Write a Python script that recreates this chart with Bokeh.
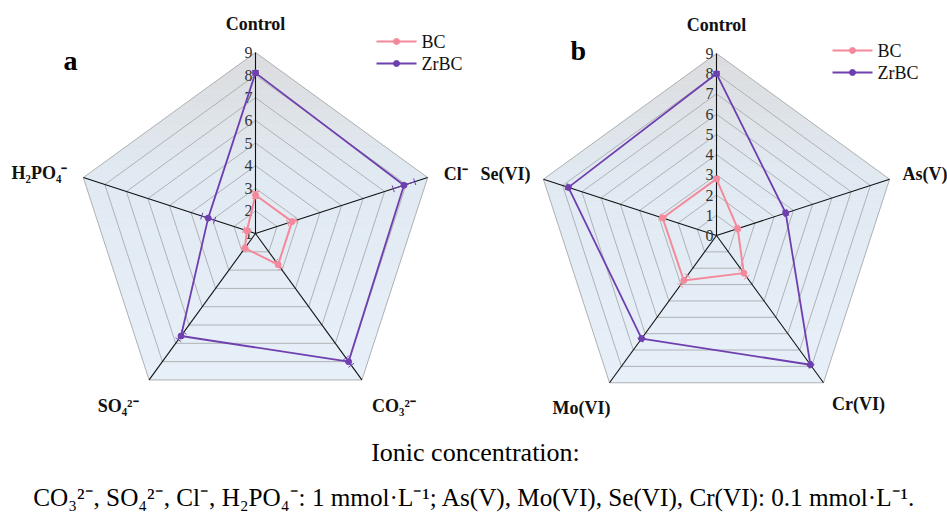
import math
from bokeh.plotting import figure
from bokeh.models import Range1d
from bokeh.embed import file_html
from bokeh.resources import INLINE
from bokeh.core.properties import value

# ---------------- data ----------------
cats_a = ["Control", "Cl⁻", "CO₃²⁻", "SO₄²⁻", "H₂PO₄⁻"]
bc_a = [2.7, 2.7, 2.7, 1.8, 1.4]
bc_a_err = [0.15, 0.2, 0.2, 0.1, 0.15]
zr_a = [8.1, 7.9, 8.0, 6.6, 3.2]
zr_a_err = [0.1, 0.5, 0.2, 0.2, 0.3]
ticks_a = [1, 2, 3, 4, 5, 6, 7, 8, 9]

cats_b = ["Control", "As(V)", "Cr(VI)", "Mo(VI)", "Se(VI)"]
bc_b = [2.8, 1.1, 2.3, 2.75, 2.8]
bc_b_err = [0.1, 0.1, 0.25, 0.3, 0.15]
zr_b = [8.0, 3.6, 7.9, 6.3, 7.7]
zr_b_err = [0.1, 0.1, 0.1, 0.1, 0.1]
ticks_b = [0, 1, 2, 3, 4, 5, 6, 7, 8, 9]

series_names = ["BC", "ZrBC"]
caption1 = "Ionic concentration:"
caption2 = ("CO₃²⁻, SO₄²⁻, Cl⁻, H₂PO₄⁻: 1 mmol·L⁻¹; "
            "As(V), Mo(VI), Se(VI), Cr(VI): 0.1 mmol·L⁻¹.")

# ---------------- styles ----------------
BC_COLOR = "#f4899b"
ZR_COLOR = "#6f3fb0"
FONT = value("Liberation Serif")
W, H = 947, 512

p = figure(width=W, height=H, output_backend="svg", toolbar_location=None,
           x_range=Range1d(0, W), y_range=Range1d(H, 0), min_border=0)
p.axis.visible = False
p.grid.visible = False
p.outline_line_color = None
p.background_fill_color = "white"


def hexc(c):
    return tuple(int(c[i:i + 2], 16) for i in (1, 3, 5))


def mix(c1, c2, t):
    a, b = hexc(c1), hexc(c2)
    return "#%02x%02x%02x" % tuple(int(round(a[i] + (b[i] - a[i]) * t)) for i in range(3))


def clip_band(poly, y0, y1):
    def half(pts, keep, yc):
        out = []
        n = len(pts)
        for i in range(n):
            P, Q = pts[i], pts[(i + 1) % n]
            kp, kq = keep(P), keep(Q)
            if kp:
                out.append(P)
            if kp != kq:
                t = (yc - P[1]) / (Q[1] - P[1])
                out.append((P[0] + t * (Q[0] - P[0]), yc))
        return out
    pts = half(poly, lambda P: P[1] >= y0, y0)
    if pts:
        pts = half(pts, lambda P: P[1] <= y1, y1)
    return pts


def radar(cx, cy, R, vmin, vmax, ticks, cats, series, label_offsets):
    n = len(cats)
    angs = [math.radians(90 - 360.0 / n * i) for i in range(n)]

    def rs(v):
        return (v - vmin) / (vmax - vmin) * R

    def pt(v, i):
        r = rs(v)
        return cx + r * math.cos(angs[i]), cy - r * math.sin(angs[i])

    outer = [pt(vmax, i) for i in range(n)]
    ys = [q[1] for q in outer]
    ytop, ybot = min(ys), max(ys)
    ymid = outer[1][1]
    # gradient background
    nb = 45
    bx, by, bcol = [], [], []
    for k in range(nb):
        y0 = ytop + (ybot - ytop) * k / nb
        y1 = ytop + (ybot - ytop) * (k + 1) / nb
        pc = clip_band(outer, y0, y1)
        if len(pc) < 3:
            continue
        yc = 0.5 * (y0 + y1)
        if yc < ymid:
            col = mix("#dbdcde", "#e1eaf2", (yc - ytop) / (ymid - ytop))
        else:
            col = mix("#e1eaf2", "#e7f0f9", (yc - ymid) / (ybot - ymid))
        bx.append([q[0] for q in pc])
        by.append([q[1] for q in pc])
        bcol.append(col)
    p.patches(bx, by, fill_color=bcol, line_color=bcol, line_width=0.7)

    # grid rings
    rx, ry = [], []
    for t in ticks:
        if t == vmin:
            continue
        ring = [pt(t, i) for i in range(n)] + [pt(t, 0)]
        rx.append([q[0] for q in ring])
        ry.append([q[1] for q in ring])
    p.multi_line(rx, ry, line_color="#a9abad", line_width=0.9)
    # spokes
    p.multi_line([[cx, q[0]] for q in outer], [[cy, q[1]] for q in outer],
                 line_color="#111111", line_width=1.1)
    # tick labels
    p.text([cx - 3] * len(ticks), [cy - rs(t) for t in ticks], text=[str(t) for t in ticks],
           text_font=FONT, text_font_size="16px", text_color="#333333",
           text_align="right", text_baseline="middle")

    # series
    for vals, errs, color, lw in series:
        pts = [pt(v, i) for i, v in enumerate(vals)]
        # error bars
        ex, ey = [], []
        for i, (v, e) in enumerate(zip(vals, errs)):
            a, b = pt(v - e, i), pt(v + e, i)
            ex.append([a[0], b[0]])
            ey.append([a[1], b[1]])
            px, py = -math.sin(angs[i]), -math.cos(angs[i])
            for c in (a, b):
                ex.append([c[0] - 3.5 * px, c[0] + 3.5 * px])
                ey.append([c[1] - 3.5 * py, c[1] + 3.5 * py])
        p.multi_line(ex, ey, line_color=color, line_width=1.0)
        p.line([q[0] for q in pts] + [pts[0][0]], [q[1] for q in pts] + [pts[0][1]],
               line_color=color, line_width=lw, line_join="round")
        p.scatter([q[0] for q in pts], [q[1] for q in pts], size=6,
                  fill_color=color, line_color=color)

    # category labels
    for i, c in enumerate(cats):
        dx, dy, al = label_offsets[i]
        p.text([outer[i][0] + dx], [outer[i][1] + dy], text=[c], text_font=FONT,
               text_font_size="18px", text_font_style="bold", text_color="#111111",
               text_align=al, text_baseline="middle")


def legend(x0, y0, dy):
    for k, (name, color) in enumerate(zip(series_names, [BC_COLOR, ZR_COLOR])):
        y = y0 + k * dy
        p.line([x0, x0 + 40], [y, y], line_color=color, line_width=1.8)
        p.scatter([x0 + 20], [y], size=6, fill_color=color, line_color=color)
        p.text([x0 + 45], [y], text=[name], text_font=FONT, text_font_size="18px",
               text_color="#111111", text_align="left", text_baseline="middle")


offs_a = [(0, -29, "center"), (16, -4, "left"), (32, 26, "center"),
          (-31, 26, "center"), (-16, -5, "right")]
offs_b = [(0, -29, "center"), (13, -5, "left"), (35, 21, "center"),
          (-28, 25, "center"), (-13, -5, "right")]

radar(255, 233, 181, 1, 9, ticks_a, cats_a,
      [(bc_a, bc_a_err, BC_COLOR, 2.0), (zr_a, zr_a_err, ZR_COLOR, 1.8)], offs_a)
radar(716, 235, 182, 0, 9, ticks_b, cats_b,
      [(bc_b, bc_b_err, BC_COLOR, 2.0), (zr_b, zr_b_err, ZR_COLOR, 1.8)], offs_b)

legend(376, 41, 22)
legend(832, 50, 22)

# panel letters
p.text([63], [60], text=["a"], text_font=FONT, text_font_size="28px",
       text_font_style="bold", text_color="black", text_align="left",
       text_baseline="alphabetic")
p.text([570], [50], text=["b"], text_font=FONT, text_font_size="28px",
       text_font_style="bold", text_color="black", text_align="left",
       text_baseline="alphabetic")

# caption
p.text([475], [452], text=[caption1], text_font=FONT, text_font_size="26px",
       text_color="black", text_align="center", text_baseline="middle")
p.text([474], [497], text=[caption2], text_font=FONT, text_font_size="25.2px",
       text_color="black", text_align="center", text_baseline="middle")

open("out.html", "w").write(file_html(p, INLINE))
